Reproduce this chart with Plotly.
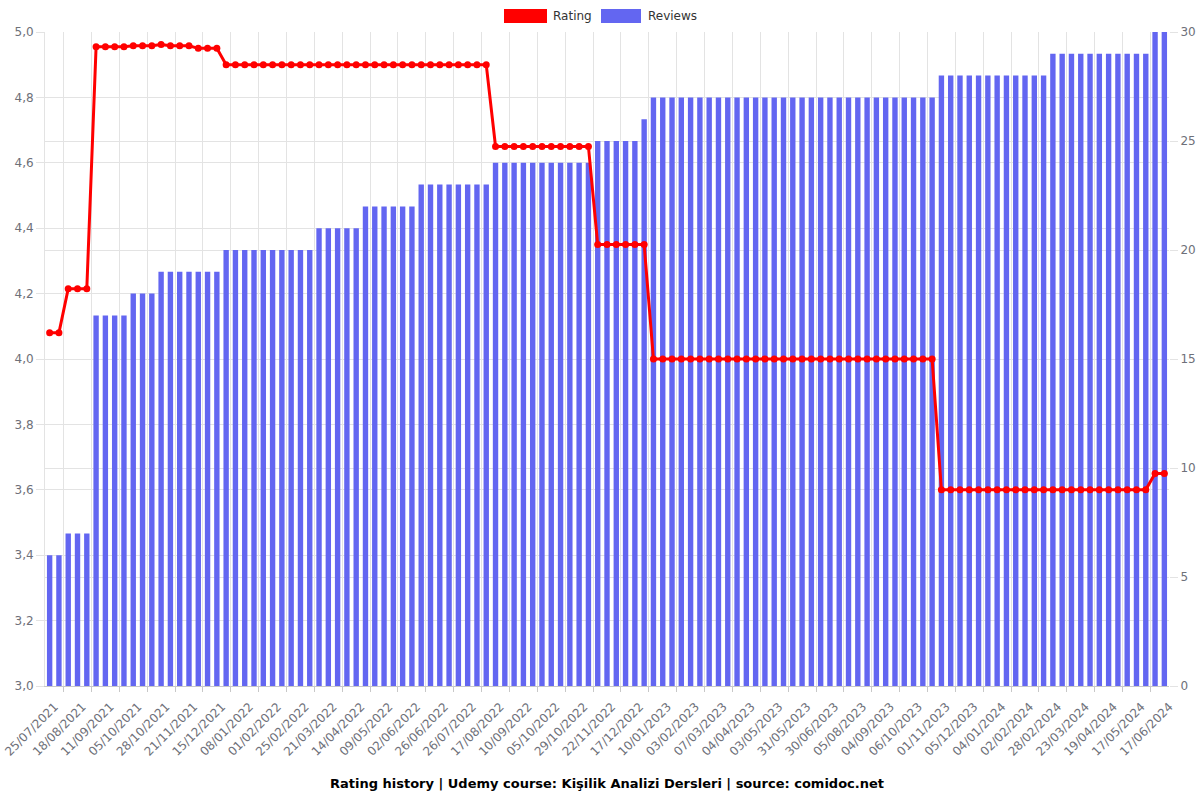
import plotly.graph_objects as go

dates = [
    "25/07/2021", "02/08/2021", "10/08/2021",
    "18/08/2021", "26/08/2021", "03/09/2021",
    "11/09/2021", "19/09/2021", "27/09/2021",
    "05/10/2021", "13/10/2021", "20/10/2021",
    "28/10/2021", "05/11/2021", "13/11/2021",
    "21/11/2021", "29/11/2021", "07/12/2021",
    "15/12/2021", "23/12/2021", "31/12/2021",
    "08/01/2022", "16/01/2022", "24/01/2022",
    "01/02/2022", "09/02/2022", "17/02/2022",
    "25/02/2022", "05/03/2022", "13/03/2022",
    "21/03/2022", "29/03/2022", "06/04/2022",
    "14/04/2022", "22/04/2022", "01/05/2022",
    "09/05/2022", "17/05/2022", "25/05/2022",
    "02/06/2022", "10/06/2022", "18/06/2022",
    "26/06/2022", "06/07/2022", "16/07/2022",
    "26/07/2022", "02/08/2022", "09/08/2022",
    "17/08/2022", "25/08/2022", "02/09/2022",
    "10/09/2022", "18/09/2022", "27/09/2022",
    "05/10/2022", "13/10/2022", "21/10/2022",
    "29/10/2022", "06/11/2022", "14/11/2022",
    "22/11/2022", "30/11/2022", "08/12/2022",
    "17/12/2022", "25/12/2022", "02/01/2023",
    "10/01/2023", "18/01/2023", "26/01/2023",
    "03/02/2023", "14/02/2023", "24/02/2023",
    "07/03/2023", "16/03/2023", "26/03/2023",
    "04/04/2023", "14/04/2023", "24/04/2023",
    "03/05/2023", "12/05/2023", "22/05/2023",
    "31/05/2023", "10/06/2023", "20/06/2023",
    "30/06/2023", "12/07/2023", "24/07/2023",
    "05/08/2023", "15/08/2023", "25/08/2023",
    "04/09/2023", "14/09/2023", "25/09/2023",
    "06/10/2023", "14/10/2023", "23/10/2023",
    "01/11/2023", "12/11/2023", "23/11/2023",
    "05/12/2023", "15/12/2023", "25/12/2023",
    "04/01/2024", "14/01/2024", "24/01/2024",
    "02/02/2024", "10/02/2024", "19/02/2024",
    "28/02/2024", "06/03/2024", "14/03/2024",
    "23/03/2024", "01/04/2024", "10/04/2024",
    "19/04/2024", "28/04/2024", "08/05/2024",
    "17/05/2024", "27/05/2024", "06/06/2024",
    "17/06/2024",
]

rating = [
    4.08, 4.08,
    4.215, 4.215, 4.215,
    4.955, 4.955, 4.955, 4.955,
    4.958, 4.958, 4.958,
    4.962,
    4.958, 4.958, 4.958,
    4.95, 4.95, 4.95,
    4.9, 4.9, 4.9, 4.9, 4.9, 4.9, 4.9, 4.9, 4.9, 4.9,
    4.9, 4.9, 4.9, 4.9, 4.9, 4.9, 4.9, 4.9, 4.9, 4.9,
    4.9, 4.9, 4.9, 4.9, 4.9, 4.9, 4.9, 4.9, 4.9,
    4.65, 4.65, 4.65, 4.65, 4.65, 4.65, 4.65, 4.65, 4.65, 4.65, 4.65,
    4.35, 4.35, 4.35, 4.35, 4.35, 4.35,
    4.0, 4.0, 4.0, 4.0, 4.0, 4.0, 4.0, 4.0, 4.0, 4.0,
    4.0, 4.0, 4.0, 4.0, 4.0, 4.0, 4.0, 4.0, 4.0, 4.0,
    4.0, 4.0, 4.0, 4.0, 4.0, 4.0, 4.0, 4.0, 4.0, 4.0,
    4.0,
    3.6, 3.6, 3.6, 3.6, 3.6, 3.6, 3.6, 3.6, 3.6, 3.6,
    3.6, 3.6, 3.6, 3.6, 3.6, 3.6, 3.6, 3.6, 3.6, 3.6,
    3.6, 3.6, 3.6,
    3.65, 3.65,
]

reviews = [
    6, 6,
    7, 7, 7,
    17, 17, 17, 17,
    18, 18, 18,
    19, 19, 19, 19, 19, 19, 19,
    20, 20, 20, 20, 20, 20, 20, 20, 20, 20,
    21, 21, 21, 21, 21,
    22, 22, 22, 22, 22, 22,
    23, 23, 23, 23, 23, 23, 23, 23,
    24, 24, 24, 24, 24, 24, 24, 24, 24, 24, 24,
    25, 25, 25, 25, 25,
    26,
    27, 27, 27, 27, 27, 27, 27, 27, 27, 27,
    27, 27, 27, 27, 27, 27, 27, 27, 27, 27,
    27, 27, 27, 27, 27, 27, 27, 27, 27, 27,
    27,
    28, 28, 28, 28, 28, 28, 28, 28, 28, 28, 28, 28,
    29, 29, 29, 29, 29, 29, 29, 29, 29, 29, 29,
    30, 30,
]

title_text = "Rating history | Udemy course: Kişilik Analizi Dersleri | source: comidoc.net"

W, H = 1200, 800
ML, MR, MT, MB = 45, 31, 32, 114
PW, PH = W - ML - MR, H - MT - MB

BAR_COLOR = "#6366f1"
LINE_COLOR = "#ff0000"
GRID = "#e3e3e3"
TXT = "#6e7079"
FONT = "DejaVu Sans"

idx = list(range(len(dates)))
boundaries = [i + 0.5 for i in idx if i % 3 == 1]

fig = go.Figure()
fig.add_trace(go.Bar(
    x=idx, y=reviews, name="Reviews", yaxis="y",
    marker=dict(color=BAR_COLOR, line=dict(width=0)),
    width=0.58, customdata=dates,
    hovertemplate="%{customdata}<br>Reviews: %{y}<extra></extra>",
))
fig.add_trace(go.Scatter(
    x=idx, y=rating, name="Rating", yaxis="y2", mode="lines+markers",
    line=dict(color=LINE_COLOR, width=3),
    marker=dict(color=LINE_COLOR, size=7),
    customdata=dates,
    hovertemplate="%{customdata}<br>Rating: %{y}<extra></extra>",
))


def px_x(p):
    return (p - ML) / PW


def px_y(p):
    return (H - MB - p) / PH


shapes = [
    dict(type="rect", xref="paper", yref="paper",
         x0=px_x(504), x1=px_x(547), y0=px_y(23), y1=px_y(9),
         fillcolor=LINE_COLOR, line=dict(width=0)),
    dict(type="rect", xref="paper", yref="paper",
         x0=px_x(601), x1=px_x(641), y0=px_y(23), y1=px_y(9),
         fillcolor=BAR_COLOR, line=dict(width=0)),
]
annotations = [
    dict(text="Rating", xref="paper", yref="paper", x=px_x(551), y=px_y(16),
         xanchor="left", yanchor="middle", showarrow=False,
         font=dict(family=FONT, size=12, color="#333333")),
    dict(text="Reviews", xref="paper", yref="paper", x=px_x(646), y=px_y(16),
         xanchor="left", yanchor="middle", showarrow=False,
         font=dict(family=FONT, size=12, color="#333333")),
]

fig.update_layout(
    width=W, height=H,
    margin=dict(l=ML, r=MR, t=MT, b=MB, pad=0, autoexpand=False),
    paper_bgcolor="white", plot_bgcolor="white",
    separators=",.",
    showlegend=False,
    font=dict(family=FONT, size=12, color=TXT),
    title=dict(text="<b>" + title_text + "</b>", x=0.5, xanchor="center",
               xref="paper", y=1 - 783 / H, yanchor="middle", yref="container",
               font=dict(family=FONT, size=13, color="#000000")),
    shapes=shapes, annotations=annotations,
    bargap=0.4,
    xaxis=dict(
        range=[-0.5, len(dates) - 0.5], automargin=False,
        tickmode="array", tickvals=idx[::3], ticktext=dates[::3],
        tickangle=-45, showgrid=False, ticks="", ticklabeloverflow="allow",
        ticklabelshift=5, ticklabelstandoff=8,
        showline=True, linecolor="#c8c8c8", linewidth=1,
        tickfont=dict(family=FONT, size=12, color=TXT),
        minor=dict(tickmode="array", tickvals=boundaries, showgrid=True,
                   gridcolor=GRID, gridwidth=1, ticks="outside", ticklen=5,
                   tickcolor="#c8c8c8"),
        zeroline=False,
    ),
    yaxis=dict(
        range=[0, 30], tickmode="linear", tick0=0, dtick=5, automargin=False,
        side="right", showgrid=True, gridcolor=GRID, zeroline=False,
        ticks="outside", ticklen=8, tickcolor=GRID,
        tickfont=dict(family=FONT, size=12, color=TXT),
    ),
    yaxis2=dict(
        range=[3, 5], tickmode="linear", tick0=3, dtick=0.2, tickformat=".1f",
        side="left", overlaying="y", showgrid=True, gridcolor=GRID,
        zeroline=False, showline=True, linecolor=GRID, automargin=False,
        ticks="outside", ticklen=8, tickcolor=GRID,
        tickfont=dict(family=FONT, size=12, color=TXT),
    ),
)

fig.write_html("out.html")
